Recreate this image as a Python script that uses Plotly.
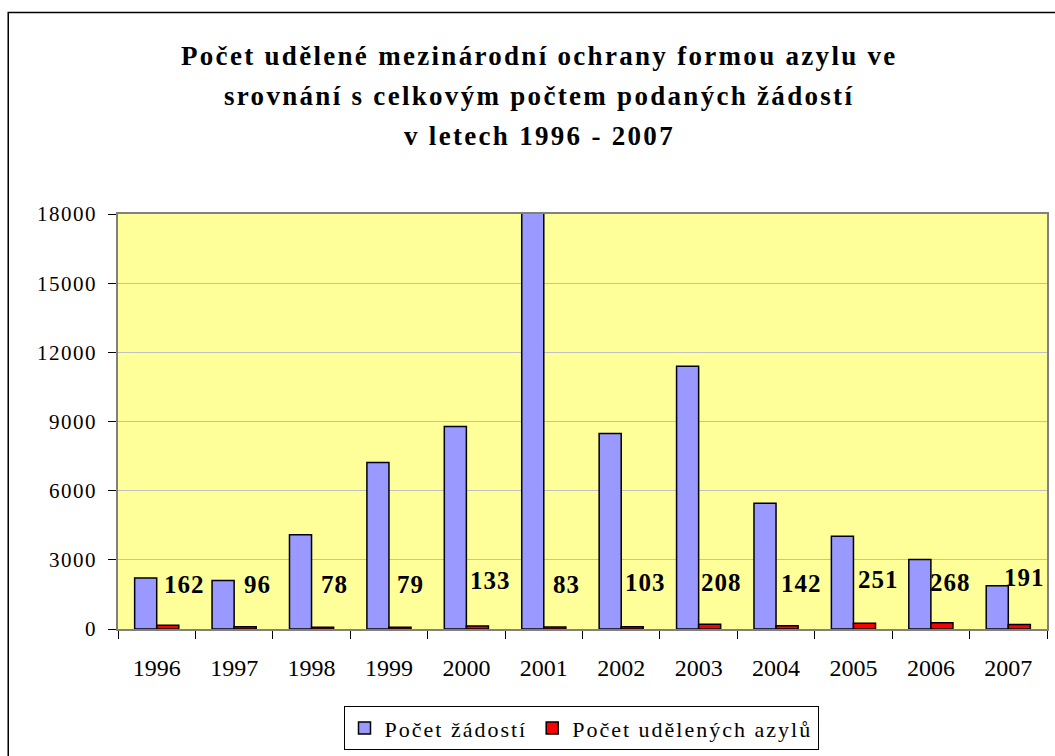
import plotly.graph_objects as go

years = ["1996", "1997", "1998", "1999", "2000", "2001", "2002", "2003", "2004", "2005", "2006", "2007"]
zadosti = [2211, 2109, 4086, 7220, 8788, 18094, 8484, 11400, 5459, 4021, 3016, 1878]
azyly = [162, 96, 78, 79, 133, 83, 103, 208, 142, 251, 268, 191]
y_ticks = [0, 3000, 6000, 9000, 12000, 15000, 18000]
title_lines = [
    "Počet udělené mezinárodní ochrany formou azylu ve",
    "srovnání s celkovým počtem podaných žádostí",
    "v letech 1996 - 2007",
]
series_names = ["Počet žádostí", "Počet udělených azylů"]

SERIF = "Liberation Serif, Times New Roman, serif"


def spaced(text, px):
    return '<span style="letter-spacing:%.1fpx">%s</span>' % (px, text)


# plot area in pixels (for placing texts outside the axes)
L, R, T, B = 118, 1049, 214, 632
W, H = R - L, B - T


def px_x(x):
    return (x - L) / W


def px_y(y):
    return (B - y) / H


fig = go.Figure()
fig.add_trace(go.Bar(
    x=years, y=zadosti, name=spaced(series_names[0], 2.0),
    marker=dict(color="#9999FF", line=dict(color="#000000", width=1.5)),
))
fig.add_trace(go.Bar(
    x=years, y=azyly, name=spaced(series_names[1], 2.0),
    marker=dict(color="#FF0000", line=dict(color="#000000", width=1.5)),
))

# data-label placement (pixel offsets / heights of the labels, not data)
label_shift = [28, 23, 23, 22, 24, 23, 24, 23, 25, 25, 20, 16]
label_ypx = [587, 587, 587, 587, 583, 587, 585, 585, 586, 582, 585, 580]
for i, (v, sh, ly) in enumerate(zip(azyly, label_shift, label_ypx)):
    fig.add_annotation(
        x=i, y=px_y(ly), xref="x", yref="paper", text="<b>%s</b>" % spaced(str(v), 1.0),
        showarrow=False, xshift=sh, yanchor="middle",
        font=dict(family=SERIF, size=25, color="#000000"),
    )

for line, ypx in zip(title_lines, [55, 95, 135]):
    fig.add_annotation(
        x=px_x(540), y=px_y(ypx), xref="paper", yref="paper",
        text="<b>%s</b>" % spaced(line, 2.3), showarrow=False, yanchor="middle",
        xanchor="center", font=dict(family=SERIF, size=27, color="#000000"),
    )

# outer chart border
fig.add_shape(type="rect", xref="paper", yref="paper",
              x0=px_x(8), x1=px_x(1062), y0=px_y(764), y1=px_y(11),
              line=dict(color="#000000", width=1.5), fillcolor="rgba(0,0,0,0)", layer="below")

fig.update_layout(
    width=1055, height=756,
    margin=dict(l=L, r=1055 - R, t=T, b=756 - B),
    paper_bgcolor="#FFFFFF", plot_bgcolor="#FFFF99",
    barmode="group", bargap=0.43, bargroupgap=0,
    showlegend=True,
    legend=dict(
        orientation="h", x=px_x(582), xanchor="center", y=px_y(732), yanchor="middle",
        font=dict(family=SERIF, size=22, color="#000000"),
        bordercolor="#000000", borderwidth=1, bgcolor="#FFFFFF",
        itemwidth=30, traceorder="normal",
    ),
    font=dict(family=SERIF, color="#000000"),
)
fig.update_yaxes(
    range=[0, 18000], tickvals=y_ticks, ticktext=[spaced(str(v), 1.5) for v in y_ticks],
    ticks="outside", ticklen=8, tickcolor="#000000", ticklabelstandoff=7,
    showgrid=True, gridcolor="#C0C0C0", gridwidth=1,
    showline=True, linecolor="#808080", linewidth=1.5, mirror=True,
    tickfont=dict(family=SERIF, size=21, color="#000000"), zeroline=False,
)
fig.update_xaxes(
    type="category", range=[-0.5, len(years) - 0.5], ticks="outside", ticklen=8,
    tickcolor="#000000", tickson="boundaries", tickangle=0,
    showline=True, linecolor="#808080", linewidth=1.5, mirror=True,
    tickfont=dict(family=SERIF, size=24, color="#000000"), ticklabelstandoff=16,
)
fig.write_html("out.html", config={"displayModeBar": False},
               post_script="document.body.style.margin='0';")
